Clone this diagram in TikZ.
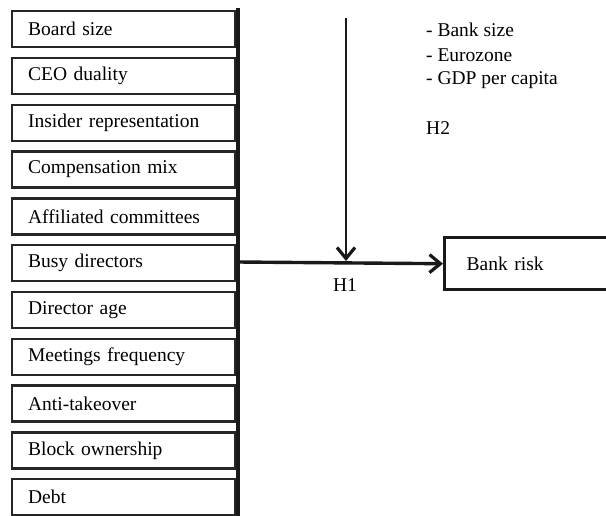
\documentclass[tikz,border=0pt]{standalone}
\usepackage{fontspec}
\setmainfont{Liberation Serif}
\usetikzlibrary{arrows.meta}
\begin{document}
\begin{tikzpicture}[x=1pt,y=-1pt,
  varbox/.style={draw=black!85, line width=2.3pt, minimum width=223pt, minimum height=36pt,
     inner sep=0pt, text width=207pt, align=left, anchor=north west,
     font=\fontsize{19.5}{23}\selectfont},
  lbl/.style={font=\fontsize{19.5}{23}\selectfont, inner sep=0pt},
  thick line/.style={line width=3.4pt, black!90},
  barb/.style={-{Straight Barb[length=11pt,width=18pt,line width=3.2pt]}}]
\useasboundingbox (0,0) rectangle (606,515);
\begin{scope}
\clip (0,0) rectangle (606,515);
\foreach \t [count=\i from 0] in {Board size,CEO duality,Insider representation,Compensation mix,Affiliated committees,Busy directors,Director age,Meetings frequency,Anti-takeover,Block ownership,Debt}{
  \node[varbox] (v\i) at (11,{10+46.8*\i}) {\hspace*{8pt}\t};
}
\coordinate (bt) at (238,8);
\coordinate (bb) at (238,530);
\draw[thick line] (bt) -- (bb);
\node[draw=black!90, line width=3.4pt, minimum width=175pt, minimum height=52pt, anchor=north west,
  inner sep=0pt, text width=150pt, align=left, font=\fontsize{19.5}{23}\selectfont]
  (risk) at (443,236) {\hspace*{9.5pt}Bank risk};
\coordinate (bus) at (238,262);
\draw[thick line, barb] (bus) -- (risk.west);
\coordinate (mt) at (346,18);
\coordinate (mb) at (346,261);
\draw[thick line, line width=2.4pt, barb] (mt) -- (mb);
\end{scope}
\node[lbl] (h1) at (345,285) {H1};
\node[lbl, anchor=west] (h2) at (426,128) {H2};
\node[lbl, anchor=west] (c1) at (426,30) {- Bank size};
\node[lbl, anchor=west] (c2) at (426,55) {- Eurozone};
\node[lbl, anchor=west] (c3) at (426,80) {- GDP per capita};
\end{tikzpicture}
\end{document}
